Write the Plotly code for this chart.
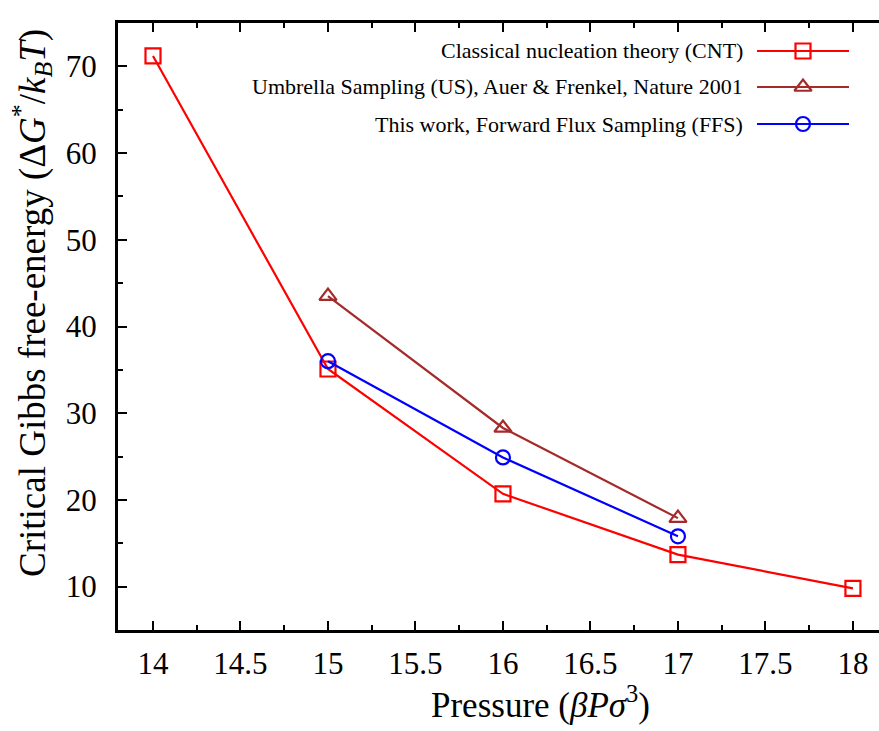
import plotly.graph_objects as go

# Critical nucleation barrier vs. reduced pressure
pressure_cnt = [14, 15, 16, 17, 18]
barrier_cnt = [71.2, 35.1, 20.7, 13.7, 9.8]

pressure_us = [15, 16, 17]
barrier_us = [43.5, 28.3, 17.9]

pressure_ffs = [15, 16, 17]
barrier_ffs = [36.0, 24.9, 15.8]

series_names = [
    "Classical nucleation theory (CNT)",
    "Umbrella Sampling (US), Auer &amp; Frenkel, Nature 2001",
    "This work, Forward Flux Sampling (FFS)",
]

x_ticks = [14, 14.5, 15, 15.5, 16, 16.5, 17, 17.5, 18]
x_tick_text = ["14", "14.5", "15", "15.5", "16", "16.5", "17", "17.5", "18"]
y_ticks = [10, 20, 30, 40, 50, 60, 70]

FONT = "Liberation Serif"
W, H = 879, 731
ML, MR, MT, MB = 118, 0, 23, 101
PW, PH = W - ML - MR, H - MT - MB


def px_x(px):
    return (px - ML) / PW


def px_y(py):
    return (H - MB - py) / PH


styles = [
    dict(color="#ff0000", symbol="square-open", size=15),
    dict(color="#a52a2a", symbol="triangle-up-open", size=15),
    dict(color="#0000ff", symbol="circle-open", size=14),
]

fig = go.Figure()

data = [
    (pressure_cnt, barrier_cnt),
    (pressure_us, barrier_us),
    (pressure_ffs, barrier_ffs),
]

for (xs, ys), st, name in zip(data, styles, series_names):
    fig.add_trace(go.Scatter(
        x=xs, y=ys, mode="lines+markers", name=name,
        line=dict(color=st["color"], width=2.2),
        marker=dict(symbol=st["symbol"], size=st["size"], color=st["color"],
                    line=dict(color=st["color"], width=2.2)),
        showlegend=False, cliponaxis=False,
    ))

# Key drawn on an overlaid unit axis pair: label on the left, sample on the right
row_y = [51, 87, 124]
line_x0, line_x1, mark_x, text_right = 757, 849, 803, 745
for st, name, ry in zip(styles, series_names, row_y):
    yy = px_y(ry)
    fig.add_trace(go.Scatter(
        x=[px_x(line_x0), px_x(line_x1)], y=[yy, yy], mode="lines",
        line=dict(color=st["color"], width=2.2),
        xaxis="x2", yaxis="y2", showlegend=False, hoverinfo="skip",
    ))
    fig.add_trace(go.Scatter(
        x=[px_x(mark_x)], y=[yy], mode="markers",
        marker=dict(symbol=st["symbol"], size=st["size"], color=st["color"],
                    line=dict(color=st["color"], width=2.2)),
        xaxis="x2", yaxis="y2", showlegend=False, hoverinfo="skip",
    ))
    fig.add_annotation(
        x=px_x(text_right), y=yy, xref="paper", yref="paper",
        text=name, showarrow=False, xanchor="right", yanchor="middle",
        font=dict(family=FONT, size=22, color="black"),
    )

# Axis titles
fig.add_annotation(
    x=px_x(540), y=px_y(702), xref="paper", yref="paper",
    text="Pressure (<i>βPσ</i><sup>3</sup>)", showarrow=False,
    xanchor="center", yanchor="middle",
    font=dict(family=FONT, size=35, color="black"),
)
fig.add_annotation(
    x=px_x(32), y=px_y(303), xref="paper", yref="paper",
    text="Critical Gibbs free-energy (Δ<i>G</i><sup>*</sup>/<i>k</i><sub><i>B</i></sub><i>T</i>)",
    showarrow=False, textangle=-90, xanchor="center", yanchor="middle",
    font=dict(family=FONT, size=37, color="black"),
)

fig.update_layout(
    width=W, height=H,
    margin=dict(l=ML, r=MR, t=MT, b=MB, pad=0),
    paper_bgcolor="white", plot_bgcolor="white",
    font=dict(family=FONT, size=31, color="black"),
    xaxis=dict(
        range=[13.8, 18.149], tickvals=x_ticks, ticktext=x_tick_text,
        showgrid=False, zeroline=False,
        showline=True, linecolor="black", linewidth=3, mirror="ticks",
        ticks="inside", ticklen=9, tickwidth=1.5, tickcolor="black",
        minor=dict(dtick=0.25, ticks="inside", ticklen=5, tickwidth=1.5,
                   tickcolor="black", showgrid=False),
        tickfont=dict(family=FONT, size=31), ticklabelstandoff=4,
    ),
    yaxis=dict(
        range=[5, 75], tickvals=y_ticks,
        showgrid=False, zeroline=False,
        showline=True, linecolor="black", linewidth=3, mirror=False,
        ticks="inside", ticklen=9, tickwidth=1.5, tickcolor="black",
        minor=dict(dtick=5, ticks="inside", ticklen=5, tickwidth=1.5,
                   tickcolor="black", showgrid=False),
        tickfont=dict(family=FONT, size=31), ticklabelstandoff=12,
    ),
    xaxis2=dict(range=[0, 1], overlaying="x", visible=False, fixedrange=True),
    yaxis2=dict(range=[0, 1], overlaying="y", visible=False, fixedrange=True),
)

fig.write_html("out.html")
